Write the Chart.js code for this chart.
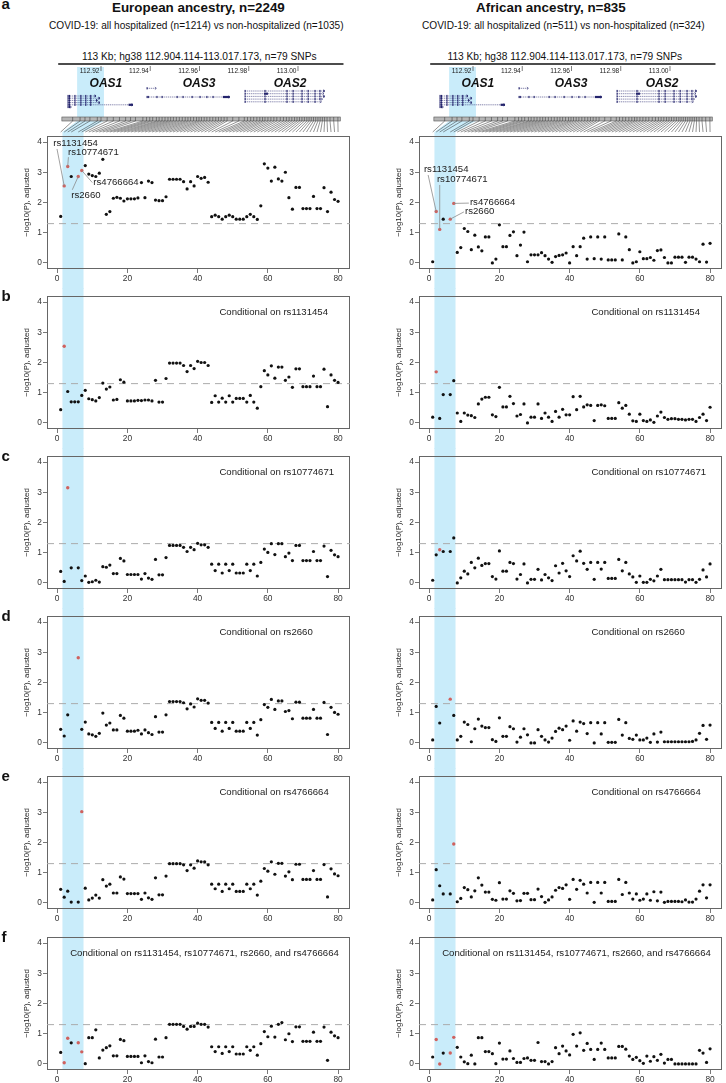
<!DOCTYPE html>
<html>
<head>
<meta charset="utf-8">
<title>OAS locus conditional analysis</title>
<script src="https://cdn.jsdelivr.net/npm/chart.js@4.4.1/dist/chart.umd.min.js"></script>
<style>
  body { margin: 0; background: #fff; font-family: 'Liberation Sans', Arial, sans-serif; color: #111; }
  #page { position: relative; width: 726px; height: 1083px; overflow: hidden; }
  .txt { position: absolute; white-space: nowrap; line-height: 1; }
  canvas { position: absolute; }
</style>
</head>
<body>
<div id="page"></div>
<script>
// ---- data ----
const snpIndex = Array.from({ length: 80 }, (_, i) => i + 1);

// genomic position (Mb, hg38) of each SNP index
const snpPos = [
  112.9085, 112.9115, 112.9135, 112.9155, null, 112.9185, 112.9200, 112.9225, 112.9250, 112.9275,
  112.9300, 112.9320, 112.9340, 112.9370, 112.9385, 112.9398, 112.9410, 112.9425, 112.9436, 112.9448,
  112.9460, 112.9472, 112.9483, 112.9494, 112.9506, 112.9518, 112.9530, 112.9542, 112.9553, 112.9564,
  112.9576, 112.9588, 112.9598, 112.9608, 112.9619, 112.9630, 112.9642, 112.9654, 112.9666, 112.9677,
  112.9688, 112.9700, 112.9712, 112.9735, 112.9760, 112.9782, 112.9795, 112.9808, 112.9820, 112.9833,
  112.9845, 112.9856, 112.9866, 112.9878, 112.9890, 112.9902, 112.9914, 112.9928, 112.9941, 112.9953,
  112.9964, 112.9975, 112.9986, 112.9996, 113.0006, 113.0016, 113.0026, 113.0036, 113.0045, 113.0054,
  113.0063, 113.0072, 113.0081, 113.0090, 113.0099, 113.0108, 113.0118, 113.0130, 113.0145, 113.0162
];

// -log10(P), adjusted ; European ancestry
const eurA = [1.54,2.55,3.19,2.86,null,2.86,3.06,3.22,2.94,2.89, 2.86,2.97,3.43,1.61,1.70,2.14,2.17,2.14,2.05,2.12,
  2.12,2.12,2.15,2.66,2.16,2.71,2.66,2.08,2.06,2.06, 2.19,2.77,2.77,2.77,2.77,2.69,2.45,2.69,2.55,2.86,
  2.80,2.83,2.67,1.53,1.58,1.53,1.45,1.53,1.58,1.53, 1.45,1.45,1.45,1.53,1.61,1.53,1.44,1.89,3.28,3.14,
  2.71,3.17,2.78,2.71,3.00,2.16,1.78,2.50,2.50,1.80, 1.80,1.80,2.20,1.80,1.80,2.49,1.70,2.34,2.10,2.04];
const eurB = [0.44,2.54,1.04,0.70,0.70,0.70,0.91,1.08,0.80,0.77, 0.73,0.84,1.32,1.12,1.19,0.76,0.78,1.43,1.35,0.73,
  0.73,0.73,0.75,0.74,0.76,0.76,0.73,1.41,0.69,0.69, 1.47,1.98,1.98,1.98,1.98,1.90,1.70,1.90,1.80,2.04,
  2.00,2.00,1.90,0.68,0.90,0.69,0.82,0.69,0.90,0.69, 0.81,0.81,0.81,0.69,0.91,0.69,0.49,1.20,1.73,1.59,
  1.89,1.48,1.85,1.85,1.41,1.52,1.18,1.79,1.79,1.20, 1.20,1.20,1.55,1.20,1.20,1.78,0.54,1.59,1.41,1.34];
const eurC = [0.38,0.05,3.15,0.50,null,0.50,0.08,0.23,0.02,0.04, 0.09,0.03,0.54,0.52,0.59,0.31,0.31,0.81,0.73,0.28,
  0.28,0.28,0.28,0.13,0.31,0.16,0.12,0.78,0.27,0.27, 0.84,1.24,1.24,1.24,1.24,1.18,1.04,1.18,1.10,1.31,
  1.26,1.26,1.18,0.62,0.41,0.62,0.33,0.62,0.41,0.62, 0.33,0.33,0.33,0.62,0.41,0.62,0.23,0.68,1.12,1.01,
  1.30,0.94,1.30,1.30,0.87,0.99,0.74,1.24,1.24,0.74, 0.74,0.74,1.04,0.74,0.74,1.22,0.21,1.08,0.93,0.87];
const eurD = [0.45,0.23,0.93,null,null,2.82,0.45,0.69,0.30,0.27, 0.22,0.32,0.99,0.59,0.66,0.43,0.43,0.91,0.82,0.39,
  0.39,0.39,0.42,0.30,0.43,0.34,0.28,0.87,0.36,0.36, 0.93,1.37,1.37,1.37,1.37,1.33,1.13,1.29,1.19,1.46,
  1.41,1.41,1.32,0.68,0.48,0.68,0.39,0.68,0.48,0.68, 0.39,0.39,0.39,0.68,0.48,0.68,0.26,0.77,1.27,1.18,
  1.44,1.11,1.39,1.39,1.04,1.07,0.80,1.35,1.35,0.82, 0.82,0.82,1.11,0.82,0.82,1.34,0.28,1.18,1.01,0.95];
const eurE = [0.45,0.19,0.39,0.03,null,0.03,3.02,0.49,0.10,0.16, 0.26,0.16,0.77,0.56,0.62,0.33,0.33,0.86,0.79,0.31,
  0.31,0.31,0.31,0.12,0.33,0.17,0.12,0.83,0.27,0.27, 0.89,1.30,1.30,1.30,1.30,1.26,1.07,1.26,1.15,1.39,
  1.36,1.36,1.26,0.62,0.47,0.62,0.38,0.62,0.47,0.62, 0.38,0.38,0.38,0.62,0.47,0.62,0.26,0.72,1.14,1.05,
  1.36,0.95,1.31,1.31,0.89,1.03,0.77,1.28,1.28,0.78, 0.78,0.78,1.07,0.78,0.78,1.27,0.20,1.13,0.96,0.90];
const eurF = [0.38,0.04,0.85,0.70,null,0.70,0.40,0.01,0.87,0.87, 1.13,0.20,0.46,0.54,0.60,0.27,0.27,0.81,0.77,0.25,
  0.25,0.25,0.25,0.04,0.27,0.08,0.04,0.82,0.23,0.23, 0.87,1.31,1.31,1.31,1.31,1.24,1.15,1.24,1.24,1.35,
  1.31,1.31,1.22,0.57,0.41,0.57,0.35,0.57,0.41,0.57, 0.33,0.33,0.33,0.57,0.45,0.57,0.29,0.67,1.07,0.90,
  1.25,0.89,1.31,1.37,0.80,1.00,0.74,1.23,1.23,0.75, 0.75,0.75,1.05,0.75,0.75,1.22,0.12,1.05,0.93,0.87];

// -log10(P), adjusted ; African ancestry
const afrA = [0.04,1.70,1.11,1.45,null,1.45,1.97,0.35,0.51,1.14, 1.04,0.44,0.92,0.53,0.40,0.86,0.86,0.00,0.13,1.26,
  0.54,0.54,0.91,1.03,0.24,0.59,1.02,0.04,0.27,0.27, 0.27,0.34,0.24,0.13,0.02,0.21,0.25,0.27,0.33,0.00,
  0.54,0.24,0.54,0.82,0.13,0.86,0.14,0.86,0.13,0.86, 0.10,0.10,0.10,0.96,0.10,0.86,0.44,0.00,0.04,0.37,
  0.14,0.14,0.18,0.09,0.41,0.43,0.18,0.00,0.00,0.19, 0.19,0.19,0.02,0.19,0.19,0.13,0.04,0.62,0.03,0.65];
const afrB = [0.19,1.69,0.15,0.94,null,0.94,1.40,0.33,0.05,0.33, 0.26,0.24,0.18,0.63,0.79,0.85,0.85,0.27,0.21,1.18,
  0.53,0.53,0.88,0.64,0.23,0.28,0.63,0.00,0.19,0.19, 0.63,0.15,0.33,0.19,0.05,0.38,0.19,0.45,0.27,0.27,
  0.87,0.44,0.88,0.53,0.60,0.58,0.08,0.58,0.60,0.57, 0.15,0.15,0.15,0.67,0.49,0.58,0.29,0.07,0.05,0.29,
  0.08,0.05,0.10,0.02,0.23,0.36,0.18,0.12,0.14,0.14, 0.12,0.12,0.10,0.12,0.12,0.05,0.18,0.29,0.08,0.52];
const afrC = [0.09,0.93,1.10,1.04,null,1.04,1.49,0.00,0.17,0.39, 0.30,0.68,0.50,0.82,0.58,0.64,0.64,0.21,0.13,1.06,
  0.39,0.39,0.68,0.64,0.13,0.28,0.63,0.00,0.12,0.12, 0.45,0.10,0.28,0.17,0.08,0.57,0.33,0.65,0.40,0.21,
  0.90,0.73,1.05,0.65,0.45,0.68,0.12,0.68,0.46,0.68, 0.15,0.15,0.15,0.78,0.40,0.68,0.30,0.20,0.02,0.23,
  0.02,0.02,0.12,0.07,0.23,0.45,0.11,0.11,0.11,0.11, 0.11,0.11,0.03,0.11,0.11,0.02,0.12,0.43,0.20,0.63];
const afrD = [0.10,1.21,0.66,null,null,1.45,0.91,0.10,0.22,0.69, 0.61,0.04,0.47,0.79,0.56,0.51,0.51,0.11,0.05,0.83,
  0.22,0.22,0.54,0.47,0.03,0.19,0.47,0.27,0.00,0.00, 0.44,0.22,0.10,0.03,0.16,0.38,0.49,0.44,0.56,0.09,
  0.73,0.39,0.69,0.64,0.31,0.67,0.00,0.67,0.30,0.67, 0.02,0.02,0.02,0.78,0.26,0.67,0.15,0.12,0.26,0.10,
  0.10,0.16,0.02,0.30,0.03,0.36,0.04,0.04,0.04,0.04, 0.04,0.04,0.04,0.04,0.05,0.10,0.32,0.58,0.12,0.59];
const afrE = [0.10,1.10,0.57,0.30,null,0.30,1.95,0.04,0.15,0.51, 0.44,0.20,0.40,0.83,0.59,0.36,0.36,0.12,0.09,0.67,
  0.13,0.13,0.40,0.32,0.07,0.08,0.32,0.32,0.11,0.11, 0.46,0.21,0.02,0.10,0.20,0.42,0.51,0.48,0.60,0.12,
  0.78,0.45,0.75,0.62,0.33,0.68,0.02,0.68,0.33,0.68, 0.05,0.05,0.05,0.78,0.28,0.68,0.33,0.13,0.30,0.09,
  0.13,0.30,0.09,0.37,0.07,0.36,0.02,0.05,0.05,0.05, 0.05,0.04,0.10,0.03,0.03,0.13,0.39,0.60,0.17,0.60];
const afrF = [0.23,0.81,0.00,0.36,null,0.36,0.88,0.55,0.23,0.07, 0.01,0.29,0.00,0.87,0.87,0.41,0.41,0.34,0.01,0.69,
  0.16,0.16,0.43,0.18,0.05,0.05,0.18,0.20,0.12,0.12, 0.71,0.08,0.08,0.00,0.08,0.54,0.34,0.59,0.43,0.30,
  0.98,0.59,1.03,0.45,0.68,0.48,0.15,0.48,0.69,0.48, 0.20,0.20,0.20,0.58,0.58,0.49,0.26,0.15,0.22,0.11,
  0.02,0.26,0.09,0.24,0.12,0.32,0.03,0.15,0.15,0.00, 0.00,0.00,0.00,0.00,0.00,0.00,0.45,0.36,0.05,0.50];

// SNP indices drawn in red in each row (a..f)
const highlighted = [[2, 3, 6, 7], [2], [3], [6], [7], [2, 3, 6, 7]];
const conditionText = ['', 'Conditional on rs1131454', 'Conditional on rs10774671', 'Conditional on rs2660',
  'Conditional on rs4766664', 'Conditional on rs1131454, rs10774671, rs2660, and rs4766664'];
const rowLetters = ['a', 'b', 'c', 'd', 'e', 'f'];
const xTicks = [0, 20, 40, 60, 80];
const yTicks = [0, 1, 2, 3, 4];
const sigLine = 1.30103;             // -log10(0.05)
const bandIndex = [1.5, 7.5];        // highlighted SNP range in index space
const bandGenome = [112.9103, 112.9212];
const regionStart = 112.904114, regionEnd = 113.017173;
const genomeTicks = [112.92, 112.94, 112.96, 112.98, 113.00];

const genes = [
  { name: 'OAS1', labelAt: 112.9220 },
  { name: 'OAS3', labelAt: 112.9598 },
  { name: 'OAS2', labelAt: 112.9968 }
];
const oas1Ex = [112.9066, 112.9072, 112.9094, 112.9118, 112.9138, 112.9158];
const transcripts = [
  { gene: 'OAS1', row: 0, start: 112.9066, end: 112.9180, exons: oas1Ex.concat([112.9176]) },
  { gene: 'OAS1', row: 1, start: 112.9066, end: 112.9196, exons: oas1Ex.concat([112.9192]) },
  { gene: 'OAS1', row: 2, start: 112.9066, end: 112.9186, exons: oas1Ex.concat([112.9182]) },
  { gene: 'OAS1', row: 3, start: 112.9066, end: 112.9196, exons: oas1Ex.concat([112.9192]) },
  { gene: 'OAS1', row: 4, start: 112.9066, end: 112.9330, exons: oas1Ex, thick: [112.9312, 112.9330] },
  { gene: 'OAS1', row: 5, start: 112.9066, end: 112.9080, exons: [112.9066, 112.9072] },
  { gene: 'OAS3', row: 0, start: 112.9387, end: 112.9425, exons: [112.9387] },
  { gene: 'OAS3', row: 3, start: 112.9387, end: 112.9723, exons: [112.9387, 112.9392, 112.9427, 112.9448, 112.9509, 112.9533, 112.9570, 112.9602, 112.9630, 112.9655], thick: [112.9695, 112.9723] },
  { gene: 'OAS2', row: 0, start: 112.9785, end: 113.0109, exons: [112.9785, 112.9866, 112.9955, 112.9980, 113.0016, 113.0041, 113.0069, 113.0089, 113.0105] },
  { gene: 'OAS2', row: 1, start: 112.9785, end: 113.0105, exons: [112.9785, 112.9955, 112.9980, 113.0016, 113.0041, 113.0069, 113.0089], thick: [112.9862, 112.9878] },
  { gene: 'OAS2', row: 2, start: 112.9785, end: 113.0109, exons: [112.9785, 112.9866, 112.9955, 112.9980, 113.0016, 113.0041, 113.0069, 113.0089, 113.0105] },
  { gene: 'OAS2', row: 3, start: 112.9785, end: 113.0100, exons: [112.9785, 112.9866, 112.9955, 112.9980, 113.0016, 113.0041, 113.0069, 113.0089] },
  { gene: 'OAS2', row: 4, start: 112.9785, end: 113.0095, exons: [112.9785, 112.9866, 112.9955, 112.9980, 113.0016, 113.0041, 113.0069] }
];

// panel a labels: text anchor (tx,ty) and leader start (lx,ly) in data units
const labelsEur = [
  { snp: 'rs1131454', idx: 2, tx: -1.1, ty: 3.95, lx: -0.05, ly: 3.77 },
  { snp: 'rs10774671', idx: 3, tx: 3.1, ty: 3.65, lx: 3.2, ly: 3.5 },
  { snp: 'rs4766664', idx: 7, tx: 10.3, ty: 2.66, lx: 10.0, ly: 2.66 },
  { snp: 'rs2660', idx: 6, tx: 4.0, ty: 2.23, lx: 4.3, ly: 2.42 }
];
const labelsAfr = [
  { snp: 'rs1131454', idx: 2, tx: -1.5, ty: 3.11, lx: -0.3, ly: 2.91 },
  { snp: 'rs10774671', idx: 3, tx: 2.2, ty: 2.75, lx: 3.0, ly: 2.58 },
  { snp: 'rs4766664', idx: 7, tx: 11.6, ty: 2.02, lx: 11.3, ly: 1.98 },
  { snp: 'rs2660', idx: 6, tx: 10.2, ty: 1.72, lx: 9.9, ly: 1.69 }
];

const columns = [
  { left: 0, title: 'European ancestry, n=2249', titleX: 112, subtitle: 'COVID-19: all hospitalized (n=1214) vs non-hospitalized (n=1035)', subX: 49, kbX: 199.5,
    series: [eurA, eurB, eurC, eurD, eurE, eurF], labels: labelsEur },
  { left: 372, title: 'African ancestry, n=835', titleX: 476, subtitle: 'COVID-19: all hospitalized (n=511) vs non-hospitalized (n=324)', subX: 422, kbX: 565,
    series: [afrA, afrB, afrC, afrD, afrE, afrF], labels: labelsAfr }
];

// ---- style ----
const FONT = "'Liberation Sans', Arial, sans-serif";
const BAND = '#c9ecfa';
const RED = '#d0615e';
const NAVY = '#23236c';
Chart.defaults.font.family = FONT;
const X_MIN = -2.9, X_MAX = 83.4, Y_MIN = -0.2, Y_MAX = 4.2;
const CANVAS_W = 354;
const rowTop = k => Math.round(136 + 160.1 * k);

const page = document.getElementById('page');
function addText(str, left, top, css) {
  const d = document.createElement('div');
  d.className = 'txt';
  d.textContent = str;
  d.style.left = left + 'px';
  d.style.top = top + 'px';
  Object.assign(d.style, css);
  page.appendChild(d);
  return d;
}
function addCanvas(left, top, w, h) {
  const c = document.createElement('canvas');
  c.width = w; c.height = h;
  c.style.left = left + 'px'; c.style.top = top + 'px';
  c.style.width = w + 'px'; c.style.height = h + 'px';
  page.appendChild(c);
  return c;
}

// ---- header: genome axis, gene models, SNP connectors ----
function headerChart(col) {
  const cv = addCanvas(col.left, 45, CANVAS_W, 91);
  const genePlugin = {
    id: 'genes',
    afterDraw(c) {
      const ctx = c.ctx, gp = v => c.scales.g.getPixelForValue(v), ip = v => c.scales.x.getPixelForValue(v);
      ctx.save();
      // highlighted band
      ctx.fillStyle = BAND;
      ctx.beginPath();
      ctx.moveTo(gp(bandGenome[0]), 22); ctx.lineTo(gp(bandGenome[1]), 22);
      ctx.lineTo(gp(bandGenome[1]), 76); ctx.lineTo(ip(bandIndex[1]), 87); ctx.lineTo(ip(bandIndex[1]), c.height);
      ctx.lineTo(ip(bandIndex[0]), c.height); ctx.lineTo(ip(bandIndex[0]), 87); ctx.lineTo(gp(bandGenome[0]), 76);
      ctx.closePath(); ctx.fill();
      // genome axis
      ctx.strokeStyle = '#111'; ctx.lineWidth = 1.6;
      ctx.beginPath(); ctx.moveTo(gp(regionStart - 0.0015), 19); ctx.lineTo(gp(regionEnd + 0.0013), 19); ctx.stroke();
      ctx.lineWidth = 0.7; ctx.strokeStyle = '#444';
      ctx.font = '6.6px ' + FONT; ctx.fillStyle = '#222'; ctx.textAlign = 'right'; ctx.textBaseline = 'alphabetic';
      genomeTicks.forEach(t => {
        const px = gp(t);
        ctx.beginPath(); ctx.moveTo(px, 21); ctx.lineTo(px, 26); ctx.stroke();
        ctx.fillText(t.toFixed(2), px - 1.5, 27.7);
      });
      // gene names
      ctx.font = 'italic bold 12px ' + FONT; ctx.fillStyle = '#111'; ctx.textAlign = 'center';
      genes.forEach(gn => ctx.fillText(gn.name, gp(gn.labelAt), 41.7));
      // transcripts
      const rowBase = { OAS1: 51, OAS3: 43.3, OAS2: 46 }, rowGap = { OAS1: 2.2, OAS3: 2.9, OAS2: 2.7 };
      ctx.strokeStyle = NAVY; ctx.fillStyle = NAVY;
      transcripts.forEach(t => {
        const y = rowBase[t.gene] + rowGap[t.gene] * t.row;
        const x0 = gp(t.start), x1 = gp(t.end);
        ctx.lineWidth = 0.55;
        ctx.setLineDash([1.2, 0.7]);
        ctx.beginPath(); ctx.moveTo(x0, y); ctx.lineTo(x1, y); ctx.stroke();
        ctx.setLineDash([]);
        t.exons.forEach(e => ctx.fillRect(gp(e) - 0.5, y - 1.1, 1.1, 2.2));
        if (t.thick) ctx.fillRect(gp(t.thick[0]), y - 1.1, gp(t.thick[1]) - gp(t.thick[0]), 2.2);
        ctx.lineWidth = 0.6;
        ctx.beginPath(); ctx.moveTo(x1 - 1.5, y - 1.2); ctx.lineTo(x1, y); ctx.lineTo(x1 - 1.5, y + 1.2); ctx.stroke();
      });
      // SNP bar and connectors
      ctx.fillStyle = '#b5b5b5';
      ctx.fillRect(gp(regionStart), 72, gp(regionEnd) - gp(regionStart), 4);
      ctx.strokeStyle = '#2a2a2a'; ctx.lineWidth = 0.5;
      snpIndex.forEach((i, j) => {
        const p = snpPos[j];
        if (p == null) return;
        const gx = gp(p);
        ctx.beginPath(); ctx.moveTo(gx, 72); ctx.lineTo(gx, 76); ctx.lineTo(ip(i), 87); ctx.stroke();
      });
      ctx.strokeStyle = '#555'; ctx.lineWidth = 0.6;
      ctx.strokeRect(gp(regionStart), 72, gp(regionEnd) - gp(regionStart), 4);
      ctx.restore();
    }
  };
  new Chart(cv, {
    type: 'scatter',
    data: { datasets: [] },
    options: {
      responsive: false, animation: false, events: [],
      layout: { padding: { left: 47, right: CANVAS_W - 350, top: 0, bottom: 0 } },
      plugins: { legend: { display: false }, tooltip: { enabled: false } },
      scales: {
        x: { type: 'linear', min: X_MIN, max: X_MAX, display: false },
        g: { type: 'linear', axis: 'x', position: 'top', min: 112.89807, max: 113.02112, display: false },
        y: { type: 'linear', min: 0, max: 1, display: false }
      }
    },
    plugins: [genePlugin]
  });
}

// ---- one association panel ----
function panelChart(col, k) {
  const top = rowTop(k);
  const cv = addCanvas(col.left, top - 8, CANVAS_W, 161);
  const vals = col.series[k], hi = highlighted[k];
  const black = [], red = [];
  snpIndex.forEach((i, j) => {
    const v = vals[j];
    if (v == null) return;
    (hi.includes(i) ? red : black).push({ x: i, y: v });
  });
  const first = k === 0, last = k === 5;

  const decor = {
    id: 'decor',
    beforeDraw(c) {
      const { ctx, chartArea: a, scales: { x } } = c;
      const x0 = x.getPixelForValue(bandIndex[0]), x1 = x.getPixelForValue(bandIndex[1]);
      const y0 = first ? a.top : 0, y1 = last ? a.bottom : c.height;
      ctx.save(); ctx.fillStyle = BAND; ctx.fillRect(x0, y0, x1 - x0, y1 - y0); ctx.restore();
    },
    beforeDatasetsDraw(c) {
      const { ctx, chartArea: a } = c;
      ctx.save();
      ctx.strokeStyle = '#666'; ctx.lineWidth = 1;
      ctx.strokeRect(a.left + 0.5, a.top + 0.5, a.right - a.left - 1, a.bottom - a.top - 1);
      ctx.translate(26.5, (a.top + a.bottom) / 2); ctx.rotate(-Math.PI / 2);
      ctx.fillStyle = '#222'; ctx.font = '7.9px ' + FONT; ctx.textAlign = 'center'; ctx.textBaseline = 'middle';
      ctx.fillText('\u2212log10(P), adjusted', 0, 0);
      ctx.restore();
    },
    afterDatasetsDraw(c) {
      const { ctx, scales: { x, y } } = c;
      ctx.save();
      ctx.font = '9.6px ' + FONT; ctx.fillStyle = '#222'; ctx.textAlign = 'left'; ctx.textBaseline = 'middle';
      if (conditionText[k]) ctx.fillText(conditionText[k], x.getPixelForValue(last ? 3.7 : 46.2), y.getPixelForValue(3.67));
      if (first) {
        ctx.strokeStyle = '#8a8a8a'; ctx.lineWidth = 0.8;
        col.labels.forEach(l => {
          ctx.beginPath();
          ctx.moveTo(x.getPixelForValue(l.lx), y.getPixelForValue(l.ly));
          ctx.lineTo(x.getPixelForValue(l.idx), y.getPixelForValue(vals[l.idx - 1]));
          ctx.stroke();
          ctx.fillText(l.snp, x.getPixelForValue(l.tx), y.getPixelForValue(l.ty));
        });
      }
      ctx.restore();
    }
  };

  const axisCommon = {
    type: 'linear',
    grid: { drawOnChartArea: false, drawTicks: true, tickLength: 4, color: '#555', lineWidth: 0.8 },
    border: { display: false },
    ticks: { font: { size: 8.4 }, color: '#333', padding: 1, maxRotation: 0, autoSkip: false }
  };

  new Chart(cv, {
    type: 'scatter',
    data: {
      datasets: [
        { data: red, backgroundColor: RED, pointRadius: 1.7, pointBorderWidth: 0, order: 0 },
        { data: black, backgroundColor: '#111', pointRadius: 1.6, pointBorderWidth: 0, order: 1 },
        { data: [{ x: X_MIN, y: sigLine }, { x: X_MAX, y: sigLine }], showLine: true, pointRadius: 0,
          borderColor: '#ababab', borderWidth: 1, borderDash: [7, 5], order: 2 }
      ]
    },
    options: {
      responsive: false, animation: false, events: [],
      layout: { padding: { top: 8, right: CANVAS_W - 350, left: 0, bottom: 0 } },
      plugins: { legend: { display: false }, tooltip: { enabled: false } },
      scales: {
        x: Object.assign({}, axisCommon, {
          min: X_MIN, max: X_MAX,
          afterBuildTicks: s => { s.ticks = xTicks.map(v => ({ value: v })); },
          afterFit: s => { s.height = 20; }
        }),
        y: Object.assign({}, axisCommon, {
          min: Y_MIN, max: Y_MAX,
          afterBuildTicks: s => { s.ticks = yTicks.map(v => ({ value: v })); },
          afterFit: s => { s.width = 47; }
        })
      }
    },
    plugins: [decor]
  });
}

columns.forEach(col => {
  addText(col.title, col.titleX, 0.5, { fontSize: '13.4px', fontWeight: 'bold' });
  addText(col.subtitle, col.subX, 20.8, { fontSize: '10.1px' });
  const kb = addText('113 Kb; hg38 112.904.114-113.017.173, n=79 SNPs', 0, 52, { fontSize: '10.2px' });
  kb.style.left = (col.kbX - kb.offsetWidth / 2) + 'px';
  headerChart(col);
  for (let k = 0; k < 6; k++) panelChart(col, k);
});
rowLetters.forEach((ch, k) => {
  const top = k === 0 ? -4.4 : rowTop(k) - 7.7;
  addText(ch, 1.5, top, { fontSize: '15px', fontWeight: 'bold' });
});
</script>
</body>
</html>
